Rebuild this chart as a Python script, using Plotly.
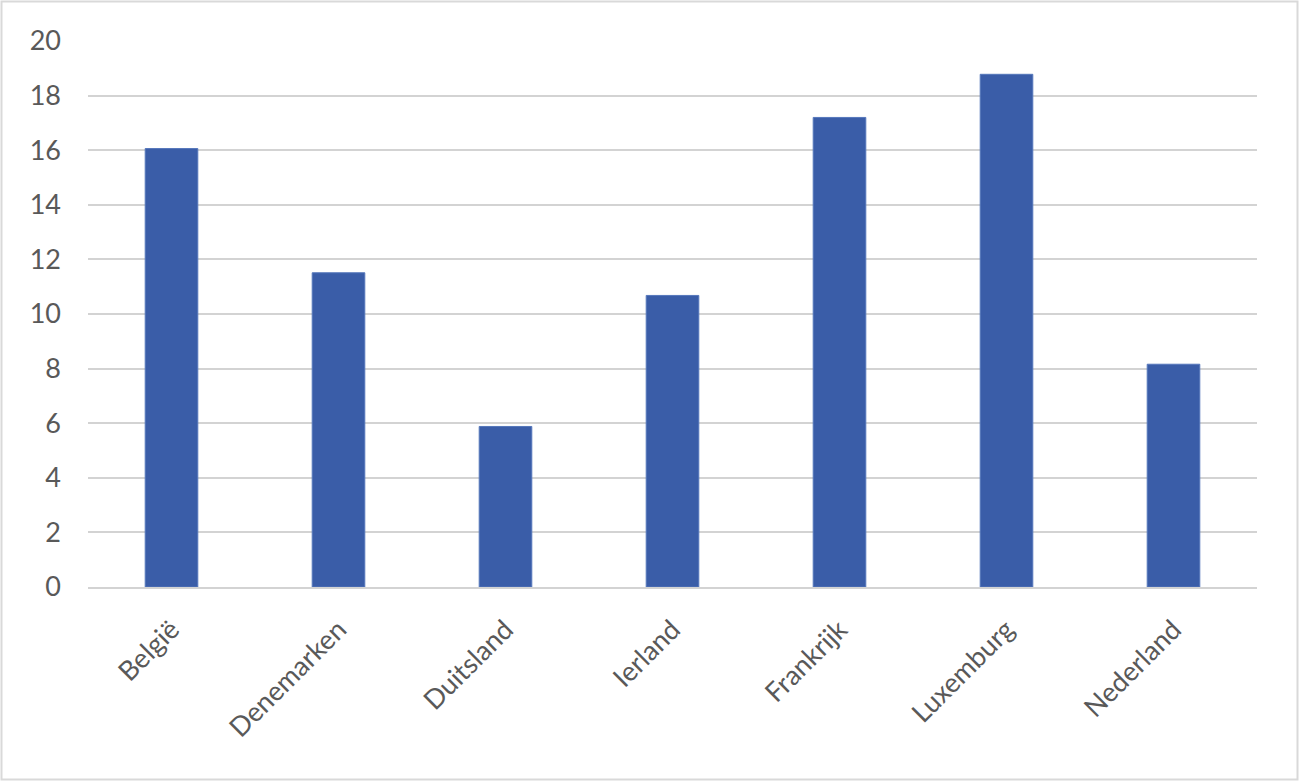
import plotly.graph_objects as go

countries = ["België", "Denemarken", "Duitsland", "Ierland", "Frankrijk", "Luxemburg", "Nederland"]
values = [16.06, 11.51, 5.88, 10.68, 17.2, 18.78, 8.16]
y_ticks = [0, 2, 4, 6, 8, 10, 12, 14, 16, 18, 20]

W, H = 1299, 781
L, R, T, B = 88, 42, 41, 194
pw, ph = W - L - R, H - T - B

fig = go.Figure(go.Bar(
    x=countries, y=values,
    marker=dict(color="#3A5DA8", line=dict(width=1, color="#5577BB")),
    width=0.315,
))

fig.update_layout(
    width=W, height=H,
    margin=dict(l=L, r=R, t=T, b=B),
    paper_bgcolor="white", plot_bgcolor="white",
    font=dict(family="Lato, Open Sans, sans-serif", size=27, color="#595959"),
    showlegend=False,
    shapes=[dict(type="rect", xref="paper", yref="paper",
                 x0=-(L - 1.5) / pw, x1=1 + (R - 1.5) / pw,
                 y0=-(B - 1.5) / ph, y1=1 + (T - 1.5) / ph,
                 line=dict(color="#D9D9D9", width=2), layer="below")],
)
fig.update_yaxes(range=[0, 20], tickvals=y_ticks, showgrid=True, gridcolor="#D3D3D3",
                 gridwidth=2, zeroline=False, showline=False, ticks="",
                 ticklabelstandoff=26, fixedrange=True)
fig.update_xaxes(showline=True, linecolor="#D3D3D3", linewidth=2, tickangle=-45,
                 ticks="", ticklabelstandoff=14, fixedrange=True)

fig.write_html("out.html", config={"displayModeBar": False},
               post_script="document.body.style.margin='0';document.body.style.padding='0';")
